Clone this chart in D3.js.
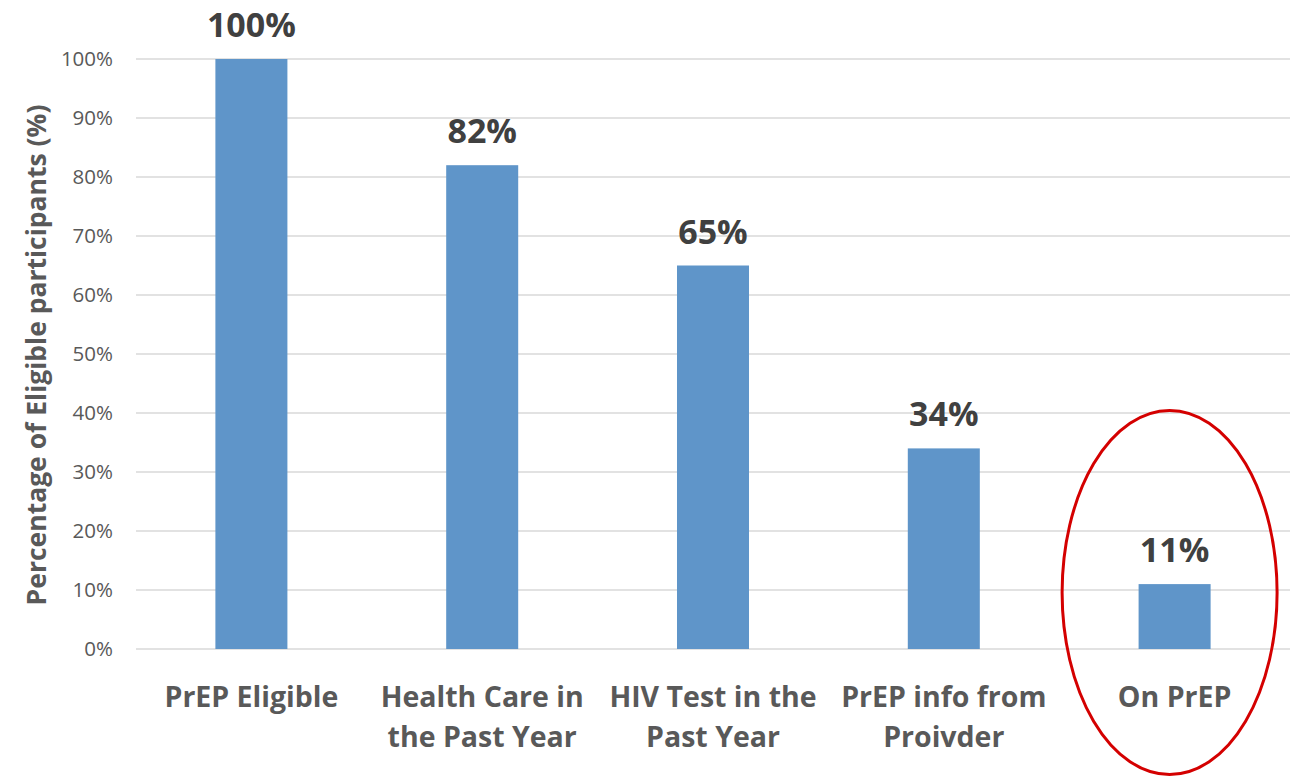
<!DOCTYPE html>
<html><head><meta charset="utf-8">
<script src="https://cdn.jsdelivr.net/npm/d3@7"></script>
<style>body{margin:0;background:#fff}svg{display:block}text{font-family:"Open Sans",sans-serif}</style>
</head><body><svg id="c" width="1299" height="776"></svg>
<script>
const categories = [["PrEP Eligible"],["Health Care in","the Past Year"],["HIV Test in the","Past Year"],["PrEP info from","Proivder"],["On PrEP"]];
const values = [100, 82, 65, 34, 11];
const labels = ["100%","82%","65%","34%","11%"];
const ticks = [0,10,20,30,40,50,60,70,80,90,100];

(function(){
const svg = d3.select("#c");
const pLeft = 136, pRight = 1290, pTop = 59, pBottom = 649;
const x = d3.scaleBand().domain(d3.range(values.length)).range([pLeft, pRight]).paddingInner(0.688).paddingOuter(0.344);
const y = d3.scaleLinear().domain([0,100]).range([pBottom, pTop]);

svg.append("g").selectAll("line").data(ticks).join("line")
  .attr("x1", pLeft).attr("x2", pRight).attr("y1", d=>y(d)).attr("y2", d=>y(d))
  .attr("stroke", "#d9d9d9").attr("stroke-width", 1.3);

svg.append("g").selectAll("text").data(ticks).join("text")
  .attr("x", 113).attr("y", d=>y(d)).attr("dy","0.36em").attr("text-anchor","end")
  .attr("font-size", 20.5).attr("fill","#595959").text(d=>d+"%");

svg.append("g").selectAll("rect").data(values).join("rect")
  .attr("x", (d,i)=>x(i)).attr("width", x.bandwidth())
  .attr("y", d=>y(d)).attr("height", d=>pBottom - y(d)).attr("fill","#5f95c9");

svg.append("g").selectAll("text").data(values).join("text")
  .attr("x",(d,i)=>x(i)+x.bandwidth()/2).attr("y", d=>y(d)-22)
  .attr("text-anchor","middle").attr("font-size",34).attr("font-weight","bold").attr("fill","#404040")
  .text((d,i)=>labels[i]);

const cg = svg.append("g").selectAll("text").data(categories).join("text")
  .attr("x",(d,i)=>x(i)+x.bandwidth()/2).attr("y", 707)
  .attr("text-anchor","middle").attr("font-size",28.5).attr("font-weight","bold").attr("fill","#595959");
cg.selectAll("tspan").data(d=>d).join("tspan")
  .attr("x", function(){return this.parentNode.getAttribute("x");})
  .attr("dy",(d,j)=>j===0?0:40).text(d=>d);

svg.append("text").attr("transform","translate(46,355) rotate(-90)")
  .attr("text-anchor","middle").attr("font-size",26.5).attr("font-weight","bold").attr("fill","#595959")
  .text("Percentage of Eligible participants (%)");

svg.append("ellipse").attr("cx", x(4)+x.bandwidth()/2 - 5).attr("cy", 592.5).attr("rx",107.5).attr("ry",182)
  .attr("fill","none").attr("stroke","#d40000").attr("stroke-width",3);
})();
</script></body></html>
